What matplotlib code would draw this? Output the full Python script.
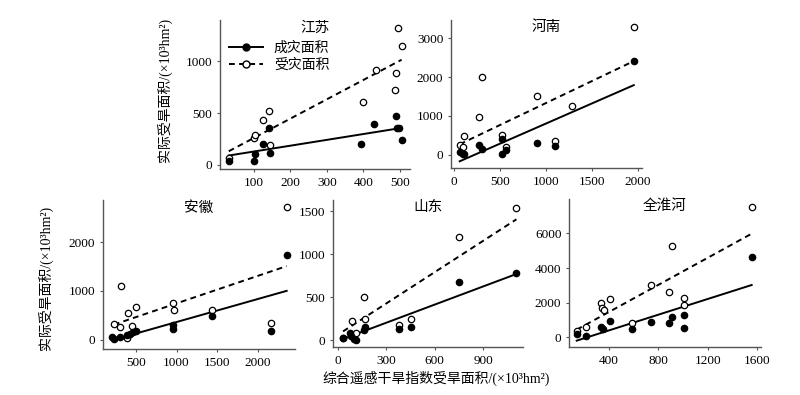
import matplotlib
matplotlib.use("Agg")
import matplotlib.pyplot as plt
from matplotlib.lines import Line2D
import numpy as np

plt.rcParams['font.family'] = ['Liberation Serif', 'Noto Sans CJK SC']
plt.rcParams['axes.unicode_minus'] = False

# ---------------- data ----------------
# 江苏
js_cx = [31, 100, 103, 125, 140, 144, 393, 429, 489, 491, 498, 505]
js_cy = [36, 33, 108, 199, 356, 114, 199, 395, 470, 354, 354, 238]
js_sx = [31, 100, 103, 125, 140, 144, 400, 435, 487, 489, 496, 505]
js_sy = [69, 260, 285, 435, 516, 190, 612, 921, 728, 889, 1322, 1144]
js_fit_c = (0.563, 72.5)
js_fit_s = (1.866, 73.6)

# 河南
hn_cx = [65, 102, 109, 275, 308, 522, 529, 565, 902, 1101, 1957]
hn_cy = [68, 26, 9, 236, 146, 413, 26, 120, 306, 228, 2414]
hn_sx = [65, 102, 109, 275, 308, 522, 565, 902, 1101, 1290, 1957]
hn_sy = [259, 194, 483, 969, 2009, 500, 186, 1509, 353, 1259, 3284]
hn_fit_c = (1.0386, -239.5)
hn_fit_s = (1.1348, 193.2)

# 安徽
ah_cx = [213, 230, 304, 386, 430, 470, 505, 952, 962, 1434, 2156, 2352]
ah_cy = [54, 6, 54, 100, 125, 157, 177, 294, 223, 493, 178, 1733]
ah_sx = [230, 304, 320, 386, 400, 448, 500, 952, 970, 1434, 2156, 2352]
ah_sy = [329, 256, 1092, 25, 555, 276, 670, 752, 599, 603, 342, 2726]
ah_fit_c = (0.473, -112.5)
ah_fit_s = (0.565, 178.0)

# 山东
sd_cx = [31, 73, 83, 97, 114, 161, 170, 379, 451, 749, 1107]
sd_cy = [33, 90, 46, 18, 10, 123, 150, 132, 155, 679, 779]
sd_sx = [31, 87, 114, 161, 166, 379, 451, 749, 1107]
sd_sy = [33, 230, 85, 501, 253, 180, 253, 1203, 1539]
sd_fit_c = (0.70, -5.0)
sd_fit_s = (1.208, 66.5)

# 全淮河
hh_cx = [137, 213, 335, 354, 411, 584, 741, 886, 906, 1004, 1004, 1556]
hh_cy = [212, 97, 598, 483, 970, 483, 886, 800, 1190, 1300, 540, 4635]
hh_sx = [137, 213, 335, 346, 357, 411, 584, 741, 886, 906, 1004, 1004, 1556]
hh_sy = [366, 598, 1983, 1710, 1597, 2232, 846, 3039, 2636, 5250, 2250, 1876, 7500]
hh_fit_c = (2.263, -502.0)
hh_fit_s = (3.903, -93.0)

titles = ['江苏', '河南', '安徽', '山东', '全淮河']
legend_labels = ['成灾面积', '受灾面积']
ylabel_text = '实际受旱面积/(×10³hm²)'
xlabel_text = '综合遥感干旱指数受旱面积/(×10³hm²)'

panels = [
    dict(cx=js_cx, cy=js_cy, sx=js_sx, sy=js_sy, fc=js_fit_c, fs=js_fit_s,
         xt=[100, 200, 300, 400, 500], yt=[0, 500, 1000],
         xl=(7, 528), yl=(-40, 1400), pos=[0.275, 0.5722, 0.2375, 0.3772]),
    dict(cx=hn_cx, cy=hn_cy, sx=hn_sx, sy=hn_sy, fc=hn_fit_c, fs=hn_fit_s,
         xt=[0, 500, 1000, 1500, 2000], yt=[0, 1000, 2000, 3000],
         xl=(-29, 2047), yl=(-345, 3474), pos=[0.5638, 0.5747, 0.2388, 0.3747]),
    dict(cx=ah_cx, cy=ah_cy, sx=ah_sx, sy=ah_sy, fc=ah_fit_c, fs=ah_fit_s,
         xt=[500, 1000, 1500, 2000], yt=[0, 1000, 2000],
         xl=(98, 2455), yl=(-192, 2863), pos=[0.1288, 0.1165, 0.24, 0.3772]),
    dict(cx=sd_cx, cy=sd_cy, sx=sd_sx, sy=sd_sy, fc=sd_fit_c, fs=sd_fit_s,
         xt=[0, 300, 600, 900], yt=[0, 500, 1000, 1500],
         xl=(-31, 1148), yl=(-77, 1627), pos=[0.4163, 0.1215, 0.2375, 0.372]),
    dict(cx=hh_cx, cy=hh_cy, sx=hh_sx, sy=hh_sy, fc=hh_fit_c, fs=hh_fit_s,
         xt=[400, 800, 1200, 1600], yt=[0, 2000, 4000, 6000],
         xl=(75, 1632), yl=(-558, 7981), pos=[0.7113, 0.1215, 0.24, 0.3747]),
]

spine_col = '#555555'
fig = plt.figure(figsize=(8.0, 3.95), dpi=100)

for p, title in zip(panels, titles):
    ax = fig.add_axes(p['pos'])
    xc = np.array([min(p['cx']), max(p['cx'])], dtype=float)
    xs = np.array([min(p['sx']), max(p['sx'])], dtype=float)
    ax.plot(xs, p['fs'][0] * xs + p['fs'][1], color='black', lw=1.4,
            linestyle=(0, (3.0, 2.2)), zorder=2)
    ax.plot(xc, p['fc'][0] * xc + p['fc'][1], color='black', lw=1.4,
            linestyle='-', zorder=2)
    ax.scatter(p['sx'], p['sy'], s=21, facecolors='white', edgecolors='black',
               linewidths=0.9, zorder=3)
    ax.scatter(p['cx'], p['cy'], s=21, facecolors='black', edgecolors='black',
               linewidths=0.9, zorder=4)
    ax.set_xlim(*p['xl'])
    ax.set_ylim(*p['yl'])
    ax.set_xticks(p['xt'])
    ax.set_yticks(p['yt'])
    for s in ['top', 'right']:
        ax.spines[s].set_visible(False)
    for s in ['left', 'bottom']:
        ax.spines[s].set_color(spine_col)
        ax.spines[s].set_linewidth(1.0)
    ax.tick_params(direction='out', length=2.5, width=0.8, colors=spine_col,
                   labelcolor='black', labelsize=9.5, pad=3)
    ax.text(0.5, 0.95, title, transform=ax.transAxes, ha='center', va='center',
            fontsize=10.5, family=['Noto Sans CJK SC', 'Liberation Serif'])
    if title == '江苏':
        handles = [
            Line2D([0], [0], color='black', lw=1.4, linestyle='-', marker='o',
                   markersize=5, markerfacecolor='black', markeredgecolor='black'),
            Line2D([0], [0], color='black', lw=1.4, linestyle=(0, (3.0, 2.2)),
                   marker='o', markersize=5, markerfacecolor='white',
                   markeredgecolor='black'),
        ]
        ax.legend(handles, legend_labels, loc='upper left',
                  bbox_to_anchor=(0.02, 0.90), frameon=False,
                  handlelength=2.4, handletextpad=0.8, labelspacing=0.25,
                  borderaxespad=0.0,
                  prop={'family': ['Noto Sans CJK SC'], 'size': 10})

fig.text(0.207, 0.772, ylabel_text, rotation=90, ha='center', va='center',
         fontsize=10)
fig.text(0.058, 0.296, ylabel_text, rotation=90, ha='center', va='center',
         fontsize=10)
fig.text(0.545, 0.043, xlabel_text, ha='center', va='center', fontsize=10)

fig.savefig('out.png', dpi=100)
